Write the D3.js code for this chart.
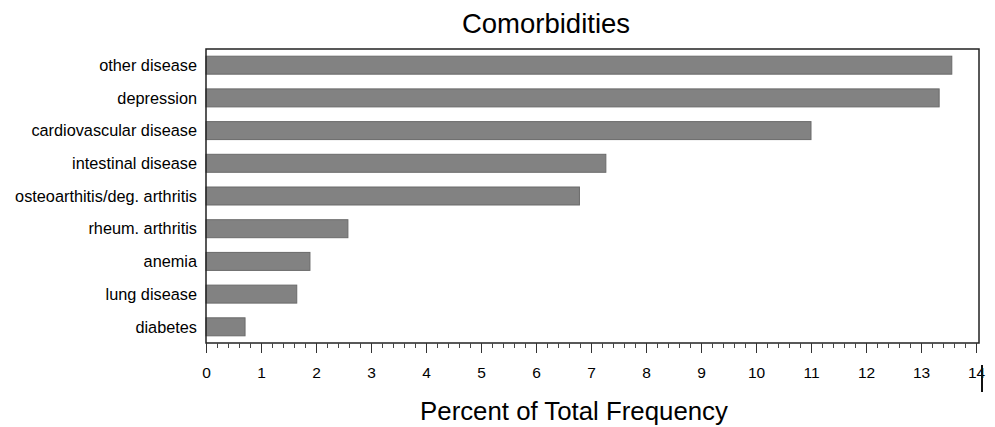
<!DOCTYPE html>
<html><head><meta charset="utf-8">
<script src="https://cdn.jsdelivr.net/npm/d3@7"></script>
<style>body{margin:0;background:#fff;}svg{display:block;font-family:"Liberation Sans",Arial,sans-serif;}</style>
</head><body><svg id="c" width="995" height="427"></svg>
<script>
const categories = ["other disease","depression","cardiovascular disease","intestinal disease","osteoarthitis/deg. arthritis","rheum. arthritis","anemia","lung disease","diabetes"];
const values = [13.56,13.33,11.0,7.27,6.79,2.58,1.89,1.65,0.71];
const majorTicks = [0,1,2,3,4,5,6,7,8,9,10,11,12,13,14];
const minorTicks = d3.range(0,14.01,0.2).map(v=>+v.toFixed(1));
const title = "Comorbidities";
const xTitle = "Percent of Total Frequency";

const svg = d3.select("#c");
const L=206, R=979, T=49, B=343;
const x = d3.scaleLinear().domain([0,14]).range([206,976]);
const y = d3.scaleBand().domain(categories).range([T,B]).paddingInner(0.45).paddingOuter(0.22);

svg.append("text").attr("x",546).attr("y",33).attr("text-anchor","middle")
  .attr("font-size",27.5).attr("fill","#000").text(title);

svg.selectAll("rect.bar").data(values).enter().append("rect").attr("class","bar")
  .attr("x",x(0)).attr("y",(d,i)=>y(categories[i]))
  .attr("width",d=>x(d)-x(0)).attr("height",y.bandwidth())
  .attr("fill","#828282").attr("stroke","#6a6a6a").attr("stroke-width",1);

svg.append("rect").attr("x",L).attr("y",T).attr("width",R-L).attr("height",B-T)
  .attr("fill","none").attr("stroke","#222").attr("stroke-width",1.5);

svg.selectAll("text.cat").data(categories).enter().append("text").attr("class","cat")
  .attr("x",197).attr("y",d=>y(d)+y.bandwidth()/2).attr("dy","0.35em")
  .attr("text-anchor","end").attr("font-size",16.3).attr("fill","#000").text(d=>d);

// x axis: major and minor ticks
const gMinor = svg.append("g").attr("transform",`translate(0,${B})`)
  .call(d3.axisBottom(x).tickValues(minorTicks).tickSize(5).tickFormat(""));
gMinor.select(".domain").remove();
gMinor.selectAll("line").attr("stroke","#444");
const gMajor = svg.append("g").attr("transform",`translate(0,${B})`)
  .call(d3.axisBottom(x).tickValues(majorTicks).tickSize(10).tickPadding(14).tickFormat(d3.format("d")));
gMajor.select(".domain").remove();
gMajor.selectAll("line").attr("stroke","#333");
gMajor.selectAll("text").attr("font-size",15.5).attr("fill","#000")
  .attr("font-family","\"Liberation Sans\",Arial,sans-serif");

svg.append("line").attr("x1",982).attr("x2",982).attr("y1",365).attr("y2",392)
  .attr("stroke","#111").attr("stroke-width",2);

svg.append("text").attr("x",574).attr("y",420).attr("text-anchor","middle")
  .attr("font-size",25.8).attr("fill","#000").text(xTitle);
</script></body></html>
